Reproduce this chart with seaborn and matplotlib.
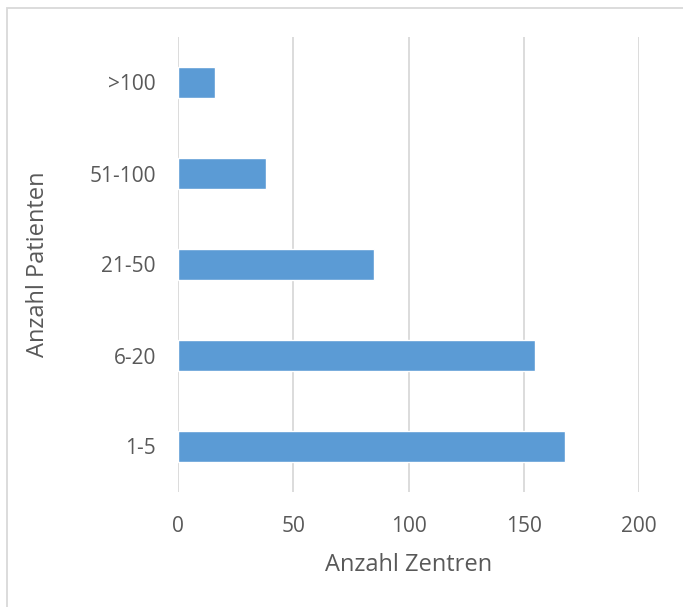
import matplotlib
matplotlib.use("Agg")
import matplotlib.pyplot as plt
import seaborn as sns
import pandas as pd
from matplotlib.patches import Rectangle

categories = [">100", "51-100", "21-50", "6-20", "1-5"]
values = [16, 38, 85, 155, 168]
xticks = [0, 50, 100, 150, 200]

sns.set_theme(style="white")
plt.rcParams['font.family'] = ['Open Sans', 'DejaVu Sans']

W, H = 683, 607
fig = plt.figure(figsize=(W / 100, H / 100), dpi=100)
ax = fig.add_axes([178 / W, 1 - 492 / H, (639 - 178) / W, (492 - 37) / H])

df = pd.DataFrame({"cat": categories, "val": values})
sns.barplot(data=df, x="val", y="cat", order=categories, color="#5B9BD5",
            saturation=1, width=0.35, orient="h", ax=ax)

ax.set_xlim(0, 200)
ax.set_ylim(4.5, -0.5)
ax.set_xticks(xticks)
ax.set_xticklabels([str(t) for t in xticks])
ax.xaxis.grid(True, color="#D9D9D9", linewidth=1.3)
ax.set_axisbelow(True)
for s in ax.spines.values():
    s.set_visible(False)
ax.tick_params(axis="both", length=0, labelsize=15, colors="#595959")
ax.tick_params(axis="x", pad=17)
ax.tick_params(axis="y", pad=16)
ax.set_xlabel("Anzahl Zentren", fontsize=17, color="#595959", labelpad=12)
ax.set_ylabel("Anzahl Patienten", fontsize=17, color="#595959", labelpad=28)

fig.patches.append(Rectangle((7 / W, -0.1), 1.0, 1.1 - 8 / H, transform=fig.transFigure,
                             fill=False, edgecolor="#D9D9D9", linewidth=1.3, zorder=0))

fig.savefig("out.png", dpi=100)
